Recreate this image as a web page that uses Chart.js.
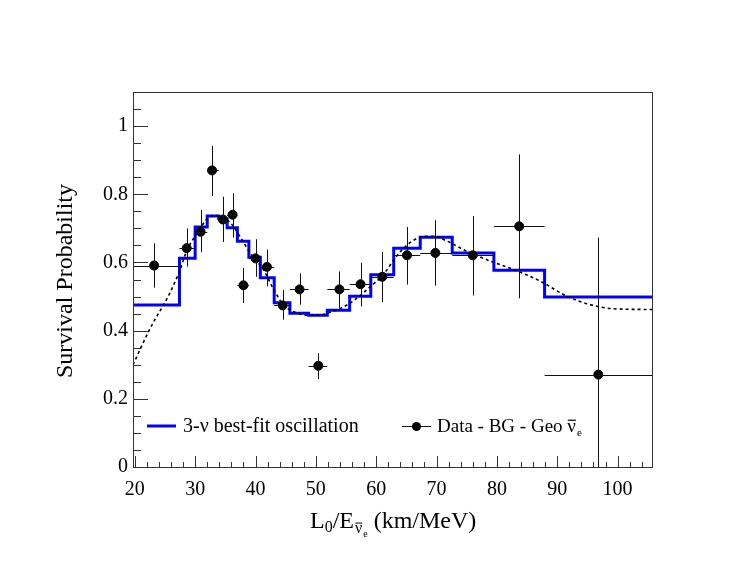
<!DOCTYPE html>
<html>
<head>
<meta charset="utf-8">
<script src="https://cdn.jsdelivr.net/npm/chart.js@4.4.1/dist/chart.umd.min.js"></script>
<style>
    html, body { margin: 0; padding: 0; background: #fff; }
    canvas { display: block; }
</style>
</head>
<body>
<canvas id="survival-chart" width="747" height="578"></canvas>
<script>
// Histograma do melhor ajuste: bordas dos bins (km/MeV) e valor em cada bin
const binEdges = [19.0, 27.4, 30.0, 32.0, 33.9, 35.3, 37.0, 38.9, 40.8, 43.1, 45.7, 48.8, 51.9, 55.6, 59.1, 62.9, 67.3, 72.6, 79.5, 87.9, 105.7];
const bestFitValues = [0.475, 0.612, 0.704, 0.736, 0.728, 0.702, 0.662, 0.615, 0.555, 0.482, 0.451, 0.445, 0.460, 0.501, 0.564, 0.642, 0.674, 0.628, 0.577, 0.499];

// Pontos de dados (Data - BG - Geo) com extremos das barras de erro verticais
const dataX = [23.2, 28.6, 30.9, 32.8, 34.6, 36.2, 38.0, 40.0, 41.9, 44.5, 47.3, 50.4, 53.9, 57.4, 61.0, 65.1, 69.8, 76.0, 83.7, 96.8];
const dataY = [0.591, 0.642, 0.690, 0.870, 0.726, 0.740, 0.533, 0.612, 0.587, 0.474, 0.521, 0.297, 0.521, 0.536, 0.558, 0.621, 0.628, 0.621, 0.706, 0.271];
const dataYHigh = [0.656, 0.700, 0.754, 0.942, 0.793, 0.803, 0.584, 0.668, 0.638, 0.519, 0.568, 0.334, 0.574, 0.599, 0.631, 0.704, 0.724, 0.736, 0.917, 0.673];
const dataYLow = [0.526, 0.588, 0.630, 0.795, 0.660, 0.673, 0.481, 0.558, 0.530, 0.432, 0.476, 0.258, 0.467, 0.471, 0.484, 0.535, 0.532, 0.503, 0.495, -0.050];

// Curva de oscilação sem binagem (tracejada)
const curveX = [19.7, 22.5, 25.8, 26.7, 27.5, 28.3, 29.2, 30.3, 31.9, 33.3, 35.8, 37.4, 39.1, 41.3, 43.0, 44.6, 46.8, 49.1, 50.2, 52.9, 55.7, 59.1, 61.2, 63.4, 65.6, 67.8, 69.5, 71.7, 75.0, 79.5, 82.8, 87.2, 91.6, 95.5, 99.4, 105.7];
const curveY = [0.300, 0.405, 0.510, 0.545, 0.578, 0.620, 0.655, 0.685, 0.726, 0.738, 0.717, 0.677, 0.628, 0.579, 0.521, 0.476, 0.452, 0.445, 0.445, 0.457, 0.481, 0.530, 0.565, 0.619, 0.658, 0.676, 0.677, 0.663, 0.633, 0.600, 0.579, 0.545, 0.501, 0.476, 0.464, 0.462];

// Rótulos dos eixos
const xTickValues = [20, 30, 40, 50, 60, 70, 80, 90, 100];
const yTickValues = [0, 0.2, 0.4, 0.6, 0.8, 1];

const SERIF = '"Liberation Serif", "Times New Roman", serif';
const BLUE = '#0000ff';

/**
 * Desenha ν com barra em cima (antineutrino) e subscrito "e"
 */
function drawNuBar(ctx, x, baseline, size, subSize, subDrop) {
    ctx.font = `${size}px ${SERIF}`;
    ctx.textBaseline = 'alphabetic';
    ctx.textAlign = 'left';
    const w = ctx.measureText('\u03bd').width;
    ctx.fillText('\u03bd', x, baseline);
    ctx.save();
    ctx.lineWidth = Math.max(1, size / 16);
    ctx.beginPath();
    ctx.moveTo(x + 0.5, baseline - size * 0.62);
    ctx.lineTo(x + w, baseline - size * 0.62);
    ctx.stroke();
    ctx.restore();
    ctx.font = `${subSize}px ${SERIF}`;
    ctx.fillText('e', x + w + 1, baseline + subDrop);
    return w + 1 + ctx.measureText('e').width;
}

const rootStylePlugin = {
    id: 'rootStyle',
    afterDatasetsDraw(chart) {
        const { ctx, chartArea, scales } = chart;
        const xs = scales.x, ys = scales.y;
        ctx.save();
        ctx.beginPath();
        ctx.rect(chartArea.left, chartArea.top, chartArea.right - chartArea.left, chartArea.bottom - chartArea.top);
        ctx.clip();
        ctx.strokeStyle = '#111';
        ctx.lineWidth = 1;
        for (let i = 0; i < dataX.length; i++) {
            const px = Math.round(xs.getPixelForValue(dataX[i])) + 0.5;
            const py = Math.round(ys.getPixelForValue(dataY[i])) + 0.5;
            ctx.beginPath();
            ctx.moveTo(xs.getPixelForValue(binEdges[i]), py);
            ctx.lineTo(xs.getPixelForValue(binEdges[i + 1]), py);
            ctx.moveTo(px, ys.getPixelForValue(dataYLow[i]));
            ctx.lineTo(px, ys.getPixelForValue(dataYHigh[i]));
            ctx.stroke();
        }
        ctx.restore();
    },
    afterDraw(chart) {
        const { ctx, chartArea, scales } = chart;
        const xs = scales.x, ys = scales.y;
        const { left, right, top, bottom } = chartArea;

        ctx.save();
        // Moldura
        ctx.strokeStyle = '#333';
        ctx.lineWidth = 1;
        ctx.strokeRect(Math.round(left) + 0.5, Math.round(top) + 0.5, Math.round(right - left), Math.round(bottom - top));

        // Marcas internas do eixo X (principais a cada 10, secundárias a cada 2)
        ctx.beginPath();
        for (let v = 20; v <= xs.max; v += 2) {
            const px = Math.round(xs.getPixelForValue(v)) + 0.5;
            const len = (v % 10 === 0) ? 11 : 5;
            ctx.moveTo(px, bottom);
            ctx.lineTo(px, bottom - len);
        }
        // Marcas internas do eixo Y (principais a cada 0.2, secundárias a cada 0.05)
        for (let k = 0; k * 0.05 <= ys.max + 1e-9; k++) {
            const py = Math.round(ys.getPixelForValue(k * 0.05)) + 0.5;
            const len = (k % 4 === 0) ? 15 : 8;
            ctx.moveTo(left, py);
            ctx.lineTo(left + len, py);
        }
        ctx.stroke();

        // Legenda
        const stepDs = chart.data.datasets[2];
        ctx.strokeStyle = stepDs.borderColor;
        ctx.lineWidth = 3;
        ctx.beginPath();
        ctx.moveTo(147, 426);
        ctx.lineTo(176, 426);
        ctx.stroke();
        ctx.fillStyle = '#000';
        ctx.font = `20px ${SERIF}`;
        ctx.textBaseline = 'alphabetic';
        ctx.textAlign = 'left';
        ctx.fillText('3-\u03bd best-fit oscillation', 183, 432);

        ctx.strokeStyle = '#111';
        ctx.lineWidth = 1;
        ctx.beginPath();
        ctx.moveTo(402, 426.5);
        ctx.lineTo(431, 426.5);
        ctx.stroke();
        ctx.beginPath();
        ctx.arc(416.5, 426.5, 4.5, 0, Math.PI * 2);
        ctx.fill();
        ctx.font = `19px ${SERIF}`;
        const label = 'Data - BG - Geo ';
        ctx.fillText(label, 437, 432);
        const lw = ctx.measureText(label).width;
        ctx.strokeStyle = '#000';
        drawNuBar(ctx, 437 + lw, 432, 19, 11, 4);

        // Título do eixo Y
        ctx.save();
        ctx.translate(66, 281);
        ctx.rotate(-Math.PI / 2);
        ctx.font = `24px ${SERIF}`;
        ctx.textAlign = 'center';
        ctx.textBaseline = 'middle';
        ctx.fillText('Survival Probability', 0, 0);
        ctx.restore();

        // Título do eixo X: L0/E(ν̄e) (km/MeV)
        const base = 528;
        ctx.textAlign = 'left';
        ctx.textBaseline = 'alphabetic';
        let x = 310;
        ctx.font = `24px ${SERIF}`;
        ctx.fillText('L', x, base);
        x += ctx.measureText('L').width;
        ctx.font = `16px ${SERIF}`;
        ctx.fillText('0', x, base + 4);
        x += ctx.measureText('0').width;
        ctx.font = `24px ${SERIF}`;
        ctx.fillText('/E', x, base);
        x += ctx.measureText('/E').width + 1;
        x += drawNuBar(ctx, x, base + 5, 16, 10, 4);
        ctx.font = `24px ${SERIF}`;
        ctx.fillText(' (km/MeV)', x, base);
        ctx.restore();
    }
};

function buildStepPoints() {
    const pts = bestFitValues.map((v, i) => ({ x: binEdges[i], y: v }));
    pts.push({ x: binEdges[binEdges.length - 1], y: bestFitValues[bestFitValues.length - 1] });
    return pts;
}

const ctx = document.getElementById('survival-chart');
const survivalChart = new Chart(ctx, {
    type: 'scatter',
    data: {
        datasets: [
            {
                label: 'Data - BG - Geo',
                data: dataX.map((x, i) => ({ x: x, y: dataY[i] })),
                backgroundColor: '#000',
                borderColor: '#000',
                pointRadius: 4.5,
                pointHoverRadius: 4.5,
                showLine: false
            },
            {
                label: 'oscillation curve',
                data: curveX.map((x, i) => ({ x: x, y: curveY[i] })),
                borderColor: '#000',
                borderWidth: 1.6,
                borderDash: [3, 3],
                pointRadius: 0,
                showLine: true,
                cubicInterpolationMode: 'monotone'
            },
            {
                label: '3-\u03bd best-fit oscillation',
                data: buildStepPoints(),
                borderColor: BLUE,
                borderWidth: 3,
                pointRadius: 0,
                showLine: true,
                stepped: 'before'
            }
        ]
    },
    options: {
        responsive: false,
        animation: false,
        layout: { padding: { left: 0, top: 92, right: 95, bottom: 0 } },
        plugins: {
            legend: { display: false },
            tooltip: { enabled: false }
        },
        scales: {
            x: {
                type: 'linear',
                min: 19.7,
                max: 105.7,
                afterFit: (scale) => { scale.height = 111; },
                afterBuildTicks: (scale) => { scale.ticks = xTickValues.map(v => ({ value: v })); },
                grid: { display: false, drawTicks: false },
                border: { display: false },
                ticks: {
                    padding: 11,
                    color: '#000',
                    font: { family: SERIF, size: 20 },
                    callback: (v) => String(v),
                    maxRotation: 0
                }
            },
            y: {
                type: 'linear',
                min: 0,
                max: 1.1,
                afterFit: (scale) => { scale.width = 133; },
                afterBuildTicks: (scale) => { scale.ticks = yTickValues.map(v => ({ value: v })); },
                grid: { display: false, drawTicks: false },
                border: { display: false },
                ticks: {
                    padding: 5,
                    color: '#000',
                    font: { family: SERIF, size: 20 },
                    callback: (v) => String(v)
                }
            }
        }
    },
    plugins: [rootStylePlugin]
});
</script>
</body>
</html>
